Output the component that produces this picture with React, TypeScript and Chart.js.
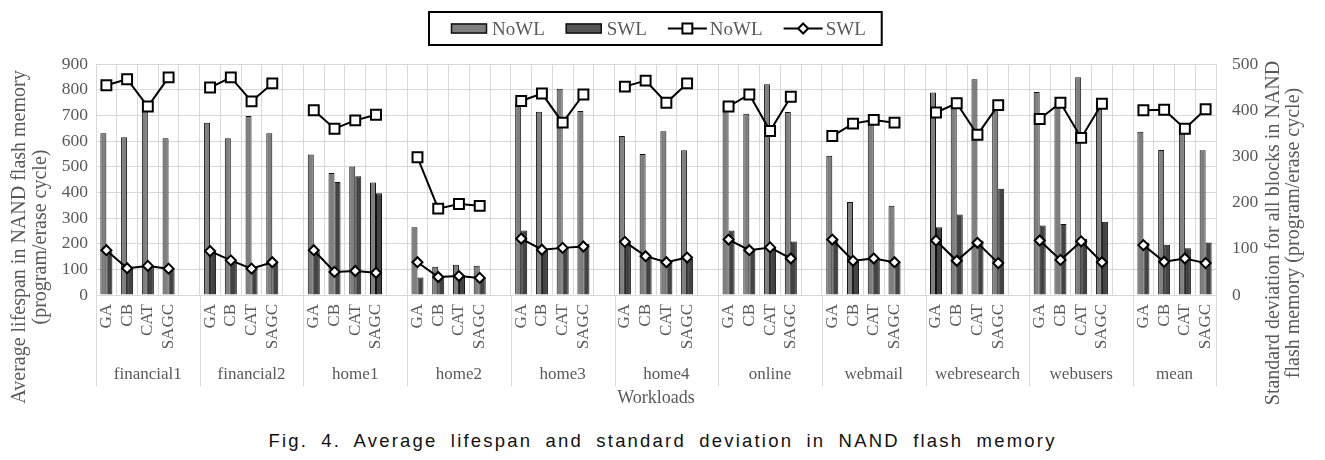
import React, { useEffect, useRef } from "react";
import { Chart, registerables } from "chart.js";

Chart.register(...registerables);

const WIDTH = 1325;
const HEIGHT = 420;

const workloads = [
  "financial1", "financial2", "home1", "home2", "home3", "home4",
  "online", "webmail", "webresearch", "webusers", "mean",
];
const algorithms = ["GA", "CB", "CAT", "SAGC"];

// Average lifespan (left axis), 4 values per workload in algorithm order
const lifespanNoWL = [
  630, 615, 730, 611,
  671, 611, 697, 630,
  547, 475, 501, 438,
  264, 110, 118, 114,
  745, 714, 804, 717,
  619, 549, 638, 564,
  748, 706, 821, 713,
  543, 362, 678, 348,
  789, 736, 841, 723,
  791, 749, 848, 730,
  636, 565, 638, 564,
];
const lifespanSWL = [
  170, 102, 108, 100,
  170, 133, 100, 127,
  170, 440, 463, 396,
  68, 72, 73, 68,
  251, 176, 186, 199,
  205, 149, 127, 140,
  251, 172, 186, 208,
  220, 133, 140, 131,
  264, 314, 212, 414,
  271, 277, 218, 285,
  205, 196, 182, 205,
];
// Standard deviation (right axis)
const stdevNoWL = [
  454, 467, 408, 471,
  449, 471, 419, 458,
  400, 360, 378, 390,
  298, 187, 197, 193,
  420, 436, 373, 434,
  451, 464, 416, 458,
  408, 434, 355, 429,
  344, 371, 379, 373,
  395, 415, 347, 411,
  381, 416, 340, 414,
  400, 401, 360, 402,
];
const stdevSWL = [
  97, 58, 63, 57,
  95, 75, 57, 71,
  97, 50, 52, 48,
  71, 39, 41, 37,
  122, 98, 102, 105,
  115, 84, 71, 81,
  120, 97, 103, 79,
  120, 74, 79, 71,
  118, 74, 113, 69,
  118, 76, 116, 71,
  108, 72, 79, 69,
];

const leftTickMax = 900;
const leftTickStep = 100;
const rightTickMax = 500;
const rightTickStep = 50;

const seriesLabels = ["NoWL", "SWL", "NoWL", "SWL"];
const leftTitle = ["Average lifespan in NAND flash memory", "(program/erase cycle)"];
const rightTitle = ["Standard deviation for all blocks in NAND", "flash memory (program/erase cycle)"];
const xTitle = "Workloads";
const caption = "Fig. 4. Average lifespan and standard deviation in NAND flash memory";

// Build slot structure: 4 algorithms + one empty slot between workloads
const slotLabels: string[] = [];
const groupSlotCounts: number[] = [];
workloads.forEach((_, gi) => {
  algorithms.forEach((a) => slotLabels.push(a));
  const last = gi === workloads.length - 1;
  if (!last) slotLabels.push("");
  groupSlotCounts.push(last ? algorithms.length : algorithms.length + 1);
});

function spread(values: number[]): (number | null)[] {
  const out: (number | null)[] = [];
  workloads.forEach((_, gi) => {
    for (let k = 0; k < algorithms.length; k++) out.push(values[gi * algorithms.length + k]);
    if (gi < workloads.length - 1) out.push(null);
  });
  return out;
}

const SERIF = '"Liberation Serif", "Times New Roman", serif';
const TEXT = "#595959";
const GRID = "#d9d9d9";
const BAR_LIGHT = "#7f7f7f";
const BAR_DARK = "#434343";
const BAR_EDGE = "#111111";

const PLOT_TOP = 64;
const PLOT_BOTTOM = 295;
const PLOT_LEFT = 96;
const PLOT_RIGHT = 1216;

function drawSquare(ctx: CanvasRenderingContext2D, cx: number, cy: number, r: number) {
  const s = r * Math.SQRT1_2;
  ctx.beginPath();
  ctx.rect(cx - s, cy - s, 2 * s, 2 * s);
  ctx.fillStyle = "#fff";
  ctx.fill();
  ctx.lineWidth = 2;
  ctx.strokeStyle = "#000";
  ctx.stroke();
}
function drawDiamond(ctx: CanvasRenderingContext2D, cx: number, cy: number, r: number) {
  ctx.beginPath();
  ctx.moveTo(cx, cy - r);
  ctx.lineTo(cx + r, cy);
  ctx.lineTo(cx, cy + r);
  ctx.lineTo(cx - r, cy);
  ctx.closePath();
  ctx.fillStyle = "#fff";
  ctx.fill();
  ctx.lineWidth = 2;
  ctx.strokeStyle = "#000";
  ctx.stroke();
}

const decorPlugin = {
  id: "decor",
  afterDraw(chart: any) {
    const { ctx, chartArea, scales } = chart;
    const x = scales.x;
    const slotW = x.getPixelForValue(1) - x.getPixelForValue(0);
    ctx.save();

    // group separators and group labels
    let slot = 0;
    ctx.strokeStyle = GRID;
    ctx.lineWidth = 1;
    ctx.fillStyle = TEXT;
    ctx.font = `17px ${SERIF}`;
    ctx.textAlign = "center";
    ctx.textBaseline = "middle";
    const sepBottom = 386;
    workloads.forEach((name, gi) => {
      const count = groupSlotCounts[gi];
      const left = x.getPixelForValue(slot) - slotW / 2;
      const right = x.getPixelForValue(slot + count - 1) + slotW / 2;
      const lx = Math.round(left) + 0.5;
      ctx.beginPath();
      ctx.moveTo(lx, chartArea.bottom);
      ctx.lineTo(lx, sepBottom);
      ctx.stroke();
      if (gi === workloads.length - 1) {
        const rx = Math.round(right) + 0.5;
        ctx.beginPath();
        ctx.moveTo(rx, chartArea.bottom);
        ctx.lineTo(rx, sepBottom);
        ctx.stroke();
      }
      ctx.fillText(name, (left + right) / 2, 375);
      slot += count;
    });

    // x title
    ctx.font = `18px ${SERIF}`;
    ctx.fillText(xTitle, (chartArea.left + chartArea.right) / 2, 398);

    // y titles
    ctx.font = `20px ${SERIF}`;
    const drawVert = (text: string, cx: number, cy: number) => {
      ctx.save();
      ctx.translate(cx, cy);
      ctx.rotate(-Math.PI / 2);
      ctx.fillText(text, 0, 0);
      ctx.restore();
    };
    drawVert(leftTitle[0], 19.5, 237);
    drawVert(leftTitle[1], 40.5, 237);
    drawVert(rightTitle[0], 1273.5, 233);
    drawVert(rightTitle[1], 1293.5, 233);

    // legend
    ctx.font = `19px ${SERIF}`;
    ctx.textAlign = "left";
    const swatchW = 36;
    const lineW = 39;
    const padL = 22;
    const padR = 16;
    const widths = seriesLabels.map((t) => ctx.measureText(t).width);
    const itemW = [swatchW + 5, swatchW + 5, lineW + 3, lineW + 3];
    let total = 0;
    widths.forEach((w, i) => {
      total += itemW[i] + w;
      if (i < widths.length - 1) total += 21;
    });
    const boxW = total + padL + padR;
    const cxPlot = (chartArea.left + chartArea.right) / 2;
    const boxX = Math.round(cxPlot - boxW / 2 - 1);
    const boxY = 12;
    const boxH = 33;
    ctx.lineWidth = 2;
    ctx.strokeStyle = "#000";
    ctx.strokeRect(boxX, boxY, boxW, boxH);
    let cx = boxX + padL;
    const midY = 28.5;
    seriesLabels.forEach((label, i) => {
      if (i < 2) {
        ctx.fillStyle = i === 0 ? BAR_LIGHT : "#555555";
        ctx.fillRect(cx, midY - 5, swatchW, 10);
        ctx.lineWidth = 1.5;
        ctx.strokeStyle = "#111";
        ctx.strokeRect(cx + 0.5, midY - 4.5, swatchW - 1, 9);
        cx += swatchW + 5;
      } else {
        ctx.beginPath();
        ctx.moveTo(cx, midY);
        ctx.lineTo(cx + lineW, midY);
        ctx.lineWidth = 2;
        ctx.strokeStyle = "#000";
        ctx.stroke();
        if (i === 2) drawSquare(ctx, cx + lineW / 2, midY, 7);
        else drawDiamond(ctx, cx + lineW / 2, midY, 5);
        cx += lineW + 3;
      }
      ctx.fillStyle = TEXT;
      ctx.textBaseline = "alphabetic";
      ctx.fillText(label, cx, 35);
      cx += widths[i] + 21;
    });

    ctx.restore();
  },
};

export default function App() {
  const canvasRef = useRef<HTMLCanvasElement | null>(null);

  useEffect(() => {
    const canvas = canvasRef.current;
    if (!canvas) return;
    const chart = new Chart(canvas, {
      type: "bar",
      data: {
        labels: slotLabels,
        datasets: [
          {
            type: "bar",
            label: seriesLabels[0],
            data: spread(lifespanNoWL),
            backgroundColor: BAR_LIGHT,
            borderColor: BAR_EDGE,
            borderWidth: 1,
            yAxisID: "y",
            order: 2,
            categoryPercentage: 0.58,
            barPercentage: 1,
          },
          {
            type: "bar",
            label: seriesLabels[1],
            data: spread(lifespanSWL),
            backgroundColor: BAR_DARK,
            borderColor: BAR_EDGE,
            borderWidth: 1,
            yAxisID: "y",
            order: 2,
            categoryPercentage: 0.58,
            barPercentage: 1,
          },
          {
            type: "line",
            label: seriesLabels[2],
            data: spread(stdevNoWL),
            borderColor: "#000",
            borderWidth: 2,
            tension: 0,
            spanGaps: false,
            pointStyle: "rect",
            pointRadius: 7,
            pointBackgroundColor: "#fff",
            pointBorderColor: "#000",
            pointBorderWidth: 2,
            yAxisID: "y2",
            order: 1,
          },
          {
            type: "line",
            label: seriesLabels[3],
            data: spread(stdevSWL),
            borderColor: "#000",
            borderWidth: 2,
            tension: 0,
            spanGaps: false,
            pointStyle: "rectRot",
            pointRadius: 5,
            pointBackgroundColor: "#fff",
            pointBorderColor: "#000",
            pointBorderWidth: 2,
            yAxisID: "y2",
            order: 0,
          },
        ],
      } as any,
      options: {
        responsive: false,
        animation: false,
        events: [],
        layout: { padding: { top: PLOT_TOP, left: 0, right: 0, bottom: 0 } },
        plugins: {
          legend: { display: false },
          title: { display: false },
          tooltip: { enabled: false },
        },
        scales: {
          x: {
            type: "category",
            offset: true,
            grid: { offset: true, color: GRID, drawTicks: false, lineWidth: 1 },
            border: { color: GRID },
            ticks: {
              autoSkip: false,
              maxRotation: 90,
              minRotation: 90,
              padding: 9,
              color: TEXT,
              font: { family: SERIF, size: 17 },
            },
            afterFit: (s: any) => {
              s.height = HEIGHT - PLOT_BOTTOM;
            },
          },
          y: {
            type: "linear",
            position: "left",
            min: 0,
            max: leftTickMax,
            ticks: {
              stepSize: leftTickStep,
              padding: 8,
              color: TEXT,
              font: { family: SERIF, size: 17.5 },
            },
            grid: { color: GRID, drawTicks: false, lineWidth: 1 },
            border: { display: false },
            afterFit: (s: any) => {
              s.width = PLOT_LEFT;
            },
          },
          y2: {
            type: "linear",
            position: "right",
            min: 0,
            max: rightTickMax,
            ticks: {
              stepSize: rightTickStep,
              padding: 16,
              color: TEXT,
              font: { family: SERIF, size: 17.5 },
            },
            grid: { display: false, drawTicks: false },
            border: { display: false },
            afterFit: (s: any) => {
              s.width = WIDTH - PLOT_RIGHT;
            },
          },
        },
      } as any,
      plugins: [decorPlugin],
    });
    return () => chart.destroy();
  }, []);

  return (
    <div style={{ position: "absolute", left: 0, top: 0, width: WIDTH, height: 460, background: "#fff" }}>
      <canvas ref={canvasRef} width={WIDTH} height={HEIGHT} style={{ width: WIDTH, height: HEIGHT, display: "block" }} />
      <div
        style={{
          position: "absolute",
          left: 0,
          top: 429,
          width: WIDTH,
          textAlign: "center",
          fontFamily: '"Liberation Sans", Arial, sans-serif',
          fontSize: 18.5,
          letterSpacing: 2.2,
          wordSpacing: 6,
          color: "#111",
          lineHeight: "24px",
          whiteSpace: "nowrap",
        }}
      >
        {caption}
      </div>
    </div>
  );
}
